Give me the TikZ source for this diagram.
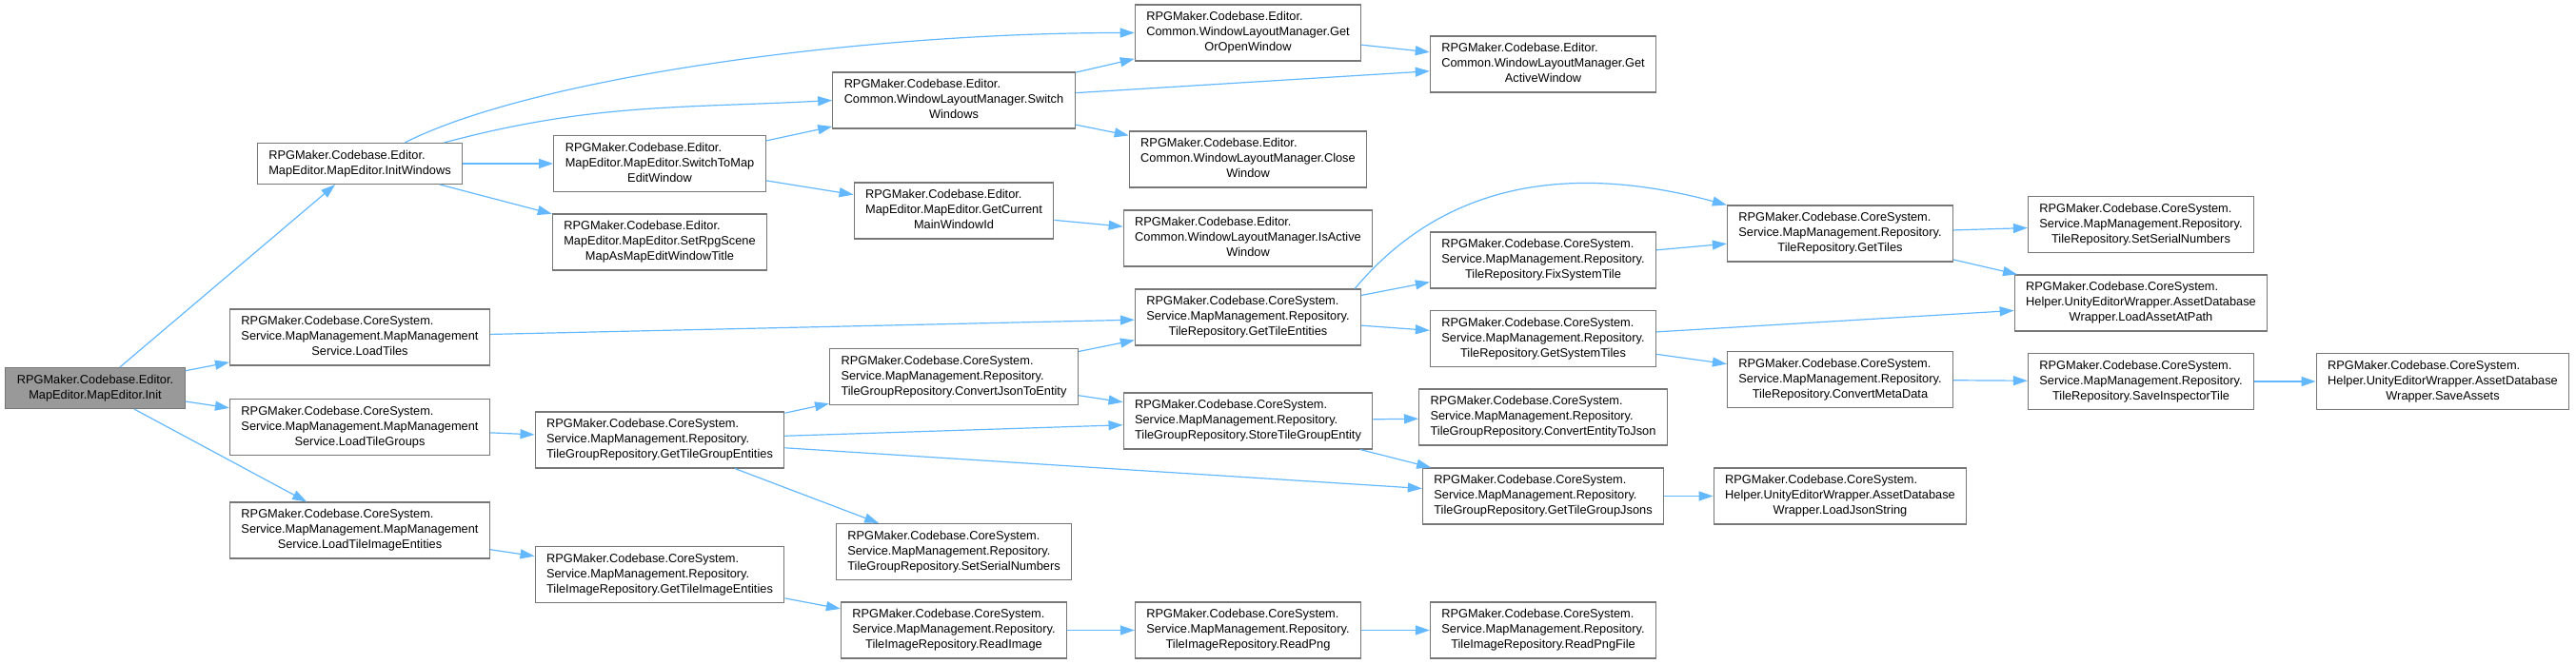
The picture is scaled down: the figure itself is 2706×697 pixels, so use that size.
\documentclass[tikz,border=0pt]{standalone}
\usepackage{fontspec}
\setmainfont{Liberation Sans}
\usetikzlibrary{arrows.meta}
\definecolor{edgeblue}{HTML}{63B8FF}
\definecolor{boxgray}{HTML}{777777}
\definecolor{curgray}{HTML}{999999}
\newcommand{\fnlabel}[2]{\begin{tabular}{@{}l@{}}#1\\\multicolumn{1}{@{}c@{}}{#2}\end{tabular}}

\begin{document}
\begin{tikzpicture}[
  x=1pt, y=1pt,
  fn/.style={rectangle, draw=boxgray, fill=white, line width=1.1pt, inner xsep=12pt, inner ysep=5.5pt, font=\fontsize{12.8}{16}\selectfont},
  cur/.style={fn, fill=curgray},
  arrow/.style={draw=edgeblue, line width=1.2pt, -{Triangle[length=15pt, width=10pt]}}]

  \useasboundingbox (0,0) rectangle (2706,697);

  \node[cur] (INIT) at (100, 289) {\fnlabel{RPGMaker.Codebase.Editor.}{MapEditor.MapEditor.Init}};

  \node[fn] (IW)   at (378, 525)   {\fnlabel{RPGMaker.Codebase.Editor.}{MapEditor.MapEditor.InitWindows}};
  \node[fn] (LT)   at (378, 342.5) {\fnlabel{RPGMaker.Codebase.CoreSystem.\\Service.MapManagement.MapManagement}{Service.LoadTiles}};
  \node[fn] (LTG)  at (378, 248)   {\fnlabel{RPGMaker.Codebase.CoreSystem.\\Service.MapManagement.MapManagement}{Service.LoadTileGroups}};
  \node[fn] (LTIE) at (378, 139.5) {\fnlabel{RPGMaker.Codebase.CoreSystem.\\Service.MapManagement.MapManagement}{Service.LoadTileImageEntities}};

  \node[fn] (STM)  at (693, 525)   {\fnlabel{RPGMaker.Codebase.Editor.\\MapEditor.MapEditor.SwitchToMap}{EditWindow}};
  \node[fn] (SRS)  at (693, 442.5) {\fnlabel{RPGMaker.Codebase.Editor.\\MapEditor.MapEditor.SetRpgScene}{MapAsMapEditWindowTitle}};
  \node[fn] (GTGE) at (693, 234.5) {\fnlabel{RPGMaker.Codebase.CoreSystem.\\Service.MapManagement.Repository.}{TileGroupRepository.GetTileGroupEntities}};
  \node[fn] (GTIE) at (693, 93)    {\fnlabel{RPGMaker.Codebase.CoreSystem.\\Service.MapManagement.Repository.}{TileImageRepository.GetTileImageEntities}};

  \node[fn] (SW)   at (1002, 591.5) {\fnlabel{RPGMaker.Codebase.Editor.\\Common.WindowLayoutManager.Switch}{Windows}};
  \node[fn] (GCMW) at (1002, 475.5) {\fnlabel{RPGMaker.Codebase.Editor.\\MapEditor.MapEditor.GetCurrent}{MainWindowId}};
  \node[fn] (CJTE) at (1002, 301)   {\fnlabel{RPGMaker.Codebase.CoreSystem.\\Service.MapManagement.Repository.}{TileGroupRepository.ConvertJsonToEntity}};
  \node[fn] (SSNG) at (1002, 117)   {\fnlabel{RPGMaker.Codebase.CoreSystem.\\Service.MapManagement.Repository.}{TileGroupRepository.SetSerialNumbers}};
  \node[fn] (RI)   at (1002, 34.5)  {\fnlabel{RPGMaker.Codebase.CoreSystem.\\Service.MapManagement.Repository.}{TileImageRepository.ReadImage}};

  \node[fn] (GOOW) at (1311, 662.5) {\fnlabel{RPGMaker.Codebase.Editor.\\Common.WindowLayoutManager.Get}{OrOpenWindow}};
  \node[fn] (CW)   at (1311, 529.5) {\fnlabel{RPGMaker.Codebase.Editor.\\Common.WindowLayoutManager.Close}{Window}};
  \node[fn] (IAW)  at (1311, 446.5) {\fnlabel{RPGMaker.Codebase.Editor.\\Common.WindowLayoutManager.IsActive}{Window}};
  \node[fn] (GTE)  at (1311, 363.5) {\fnlabel{RPGMaker.Codebase.CoreSystem.\\Service.MapManagement.Repository.}{TileRepository.GetTileEntities}};
  \node[fn] (STGE) at (1311, 254.5) {\fnlabel{RPGMaker.Codebase.CoreSystem.\\Service.MapManagement.Repository.}{TileGroupRepository.StoreTileGroupEntity}};
  \node[fn] (RP)   at (1311, 34.5)  {\fnlabel{RPGMaker.Codebase.CoreSystem.\\Service.MapManagement.Repository.}{TileImageRepository.ReadPng}};

  \node[fn] (GAW)  at (1621, 629.5) {\fnlabel{RPGMaker.Codebase.Editor.\\Common.WindowLayoutManager.Get}{ActiveWindow}};
  \node[fn] (FST)  at (1621, 423.5) {\fnlabel{RPGMaker.Codebase.CoreSystem.\\Service.MapManagement.Repository.}{TileRepository.FixSystemTile}};
  \node[fn] (GST)  at (1621, 341)   {\fnlabel{RPGMaker.Codebase.CoreSystem.\\Service.MapManagement.Repository.}{TileRepository.GetSystemTiles}};
  \node[fn] (CETJ) at (1621, 258.5) {\fnlabel{RPGMaker.Codebase.CoreSystem.\\Service.MapManagement.Repository.}{TileGroupRepository.ConvertEntityToJson}};
  \node[fn] (GTGJ) at (1621, 175.5) {\fnlabel{RPGMaker.Codebase.CoreSystem.\\Service.MapManagement.Repository.}{TileGroupRepository.GetTileGroupJsons}};
  \node[fn] (RPF)  at (1621, 34.5)  {\fnlabel{RPGMaker.Codebase.CoreSystem.\\Service.MapManagement.Repository.}{TileImageRepository.ReadPngFile}};

  \node[fn] (GT)   at (1933, 451.5) {\fnlabel{RPGMaker.Codebase.CoreSystem.\\Service.MapManagement.Repository.}{TileRepository.GetTiles}};
  \node[fn] (CMD)  at (1933, 298)   {\fnlabel{RPGMaker.Codebase.CoreSystem.\\Service.MapManagement.Repository.}{TileRepository.ConvertMetaData}};
  \node[fn] (LJS)  at (1933, 175.5) {\fnlabel{RPGMaker.Codebase.CoreSystem.\\Helper.UnityEditorWrapper.AssetDatabase}{Wrapper.LoadJsonString}};

  \node[fn] (SSNT) at (2249, 461)   {\fnlabel{RPGMaker.Codebase.CoreSystem.\\Service.MapManagement.Repository.}{TileRepository.SetSerialNumbers}};
  \node[fn] (LAAP) at (2249, 378.5) {\fnlabel{RPGMaker.Codebase.CoreSystem.\\Helper.UnityEditorWrapper.AssetDatabase}{Wrapper.LoadAssetAtPath}};
  \node[fn] (SIT)  at (2249, 296)   {\fnlabel{RPGMaker.Codebase.CoreSystem.\\Service.MapManagement.Repository.}{TileRepository.SaveInspectorTile}};

  \node[fn] (SA)   at (2566, 296)   {\fnlabel{RPGMaker.Codebase.CoreSystem.\\Helper.UnityEditorWrapper.AssetDatabase}{Wrapper.SaveAssets}};

  \draw[arrow] (INIT) -- (IW);
  \draw[arrow] (INIT) -- (LT);
  \draw[arrow] (INIT) -- (LTG);
  \draw[arrow] (INIT) -- (LTIE);

  \draw[arrow] (IW.25) to[out=27, in=180, out distance=150pt, in distance=290pt] (GOOW.west);
  \draw[arrow] (IW.14) to[out=15, in=183] (SW.west);
  \draw[arrow] (IW) -- (STM);
  \draw[arrow] (IW) -- (SRS);
  \draw[arrow] (LT) -- (GTE);
  \draw[arrow] (LTG) -- (GTGE);
  \draw[arrow] (LTIE) -- (GTIE);

  \draw[arrow] (STM) -- (SW);
  \draw[arrow] (STM) -- (GCMW);
  \draw[arrow] (GTGE) -- (CJTE);
  \draw[arrow] (GTGE) -- (STGE);
  \draw[arrow] (GTGE) -- (GTGJ);
  \draw[arrow] (GTGE) -- (SSNG);
  \draw[arrow] (GTIE) -- (RI);

  \draw[arrow] (SW) -- (GOOW);
  \draw[arrow] (SW) -- (GAW);
  \draw[arrow] (SW) -- (CW);
  \draw[arrow] (GCMW) -- (IAW);
  \draw[arrow] (CJTE) -- (GTE);
  \draw[arrow] (CJTE) -- (STGE);
  \draw[arrow] (RI) -- (RP);

  \draw[arrow] (GOOW) -- (GAW);
  \draw[arrow] (GTE.15) to[out=50, in=165] (GT.north west);
  \draw[arrow] (GTE) -- (FST);
  \draw[arrow] (GTE) -- (GST);
  \draw[arrow] (STGE) -- (CETJ);
  \draw[arrow] (STGE) -- (GTGJ);
  \draw[arrow] (RP) -- (RPF);

  \draw[arrow] (FST) -- (GT);
  \draw[arrow] (GST) -- (LAAP);
  \draw[arrow] (GST) -- (CMD);
  \draw[arrow] (GTGJ) -- (LJS);

  \draw[arrow] (GT) -- (SSNT);
  \draw[arrow] (GT) -- (LAAP);
  \draw[arrow] (CMD) -- (SIT);
  \draw[arrow] (SIT) -- (SA);

\end{tikzpicture}
\end{document}
